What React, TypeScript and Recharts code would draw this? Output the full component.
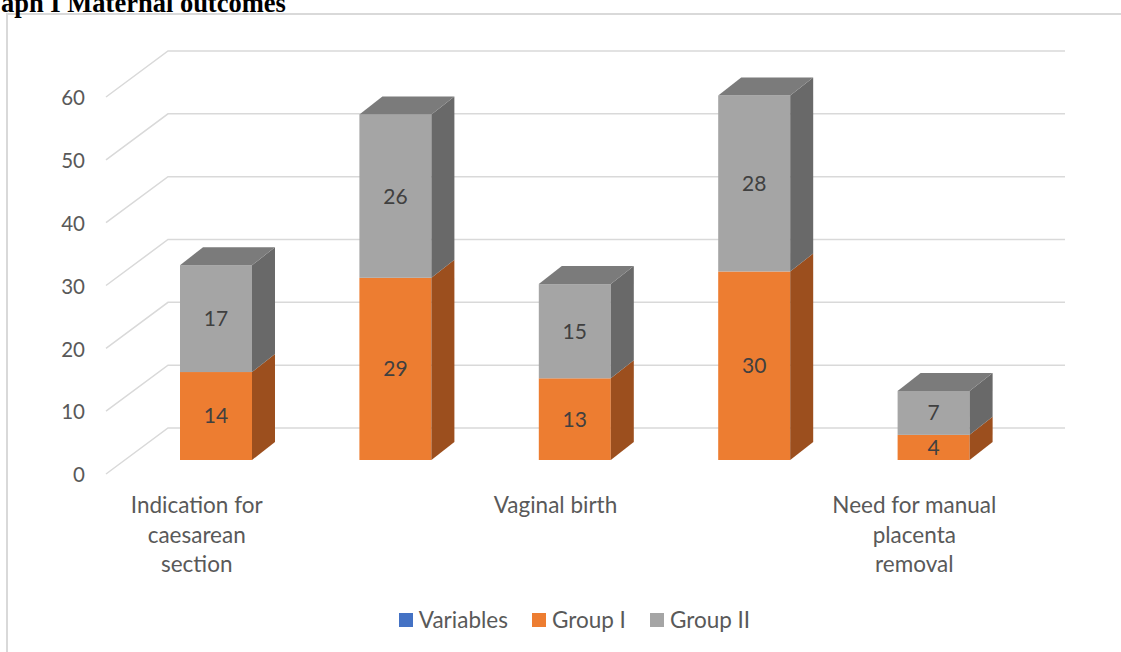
import React from "react";
import { Bar, BarChart, CartesianGrid, LabelList, Legend, XAxis, YAxis } from "recharts";

// categories 2 and 4 have no visible label in the source chart
const categories = [
  "Indication for caesarean section",
  "",
  "Vaginal birth",
  "",
  "Need for manual placenta removal",
];
const groupI = [14, 29, 13, 30, 4];
const groupII = [17, 26, 15, 28, 7];
const yTicks = [0, 10, 20, 30, 40, 50, 60];
const seriesNames = ["Variables", "Group I", "Group II"];
const seriesColors = ["#4472c4", "#ed7d31", "#a5a5a5"];

const data = categories.map((name, i) => ({
  name,
  groupI: groupI[i],
  groupII: groupII[i],
}));

const FONT = "Lato, Carlito, Calibri, sans-serif";
const DX = 23;
const DY = 18;

function wrap(text: string, max: number) {
  const lines: string[] = [];
  let cur = "";
  for (const w of text.split(" ")) {
    if (!cur) cur = w;
    else if ((cur + " " + w).length <= max) cur += " " + w;
    else {
      lines.push(cur);
      cur = w;
    }
  }
  if (cur) lines.push(cur);
  return lines;
}

function box(side: string, top: string | null) {
  return (props: any) => {
    const { x, y, width, height, fill } = props;
    if (!height || height <= 0) return <g />;
    const r = x + width;
    return (
      <g>
        <rect x={x} y={y} width={width} height={height} fill={fill} />
        <polygon
          points={`${r},${y} ${r + DX},${y - DY} ${r + DX},${y + height - DY} ${r},${y + height}`}
          fill={side}
        />
        {top && (
          <polygon
            points={`${x},${y} ${x + DX},${y - DY} ${r + DX},${y - DY} ${r},${y}`}
            fill={top}
          />
        )}
      </g>
    );
  };
}

// floor/back wall grid: diagonal on the side wall, then along the back wall
const gridLine = (p: any) => (
  <polyline
    key={p.key ?? p.index}
    points={`${p.x1 - 20},${p.y1 + 14} ${p.x1 + 42},${p.y1 - 32} ${p.x2 + 42},${p.y1 - 32}`}
    fill="none"
    stroke="#d9d9d9"
    strokeWidth={1.5}
  />
);

const ValueTick = (p: any) => (
  <text
    x={p.x - 41}
    y={p.y + 15}
    dy="0.35em"
    textAnchor="end"
    fill="#595959"
    fontSize={20.5}
    fontFamily={FONT}
  >
    {p.payload.value}
  </text>
);

const CategoryTick = (p: any) => {
  const lines = wrap(String(p.payload.value), 15);
  return (
    <text
      x={p.x - 19}
      y={p.y + 53}
      textAnchor="middle"
      fill="#595959"
      fontSize={22.5}
      fontFamily={FONT}
    >
      {lines.map((l, i) => (
        <tspan key={i} x={p.x - 19} dy={i === 0 ? 0 : 29.5}>
          {l}
        </tspan>
      ))}
    </text>
  );
};

const LegendContent = () => (
  <div
    style={{
      display: "flex",
      justifyContent: "center",
      alignItems: "center",
      gap: 24,
      fontFamily: FONT,
      fontSize: 22.5,
      lineHeight: "26px",
      color: "#595959",
    }}
  >
    {seriesNames.map((n, i) => (
      <div key={n} style={{ display: "flex", alignItems: "center", gap: 6 }}>
        <span style={{ width: 14, height: 14, background: seriesColors[i], display: "inline-block" }} />
        <span>{n}</span>
      </div>
    ))}
  </div>
);

export default function App() {
  return (
    <div style={{ position: "absolute", left: 0, top: 0, width: 1121, height: 652, overflow: "hidden", background: "#fff" }}>
      <div
        style={{
          position: "absolute",
          left: 6,
          top: 13,
          width: 1130,
          height: 660,
          border: "2px solid #d9d9d9",
        }}
      />
      <svg width={1121} height={20} style={{ position: "absolute", left: 0, top: 0 }}>
        <text x={1} y={12} fontFamily="'Liberation Serif', 'Times New Roman', serif" fontWeight="bold" fontSize={26.5}>
          aph I Maternal outcomes
        </text>
      </svg>
      <div style={{ position: "absolute", left: 0, top: 0 }}>
        <BarChart
          width={1121}
          height={652}
          data={data}
          margin={{ top: 83, right: 98, bottom: 102, left: 66 }}
          barSize={72}
        >
          <CartesianGrid vertical={false} horizontal={gridLine} fill="none" />
          <XAxis
            dataKey="name"
            height={90}
            axisLine={false}
            tickLine={false}
            tickSize={0}
            tickMargin={0}
            interval={0}
            tick={<CategoryTick />}
          />
          <YAxis
            type="number"
            domain={[0, 60]}
            ticks={yTicks}
            width={60}
            axisLine={false}
            tickLine={false}
            tickSize={0}
            tickMargin={0}
            tick={<ValueTick />}
          />
          <Legend
            layout="horizontal"
            verticalAlign="middle"
            align="center"
            content={<LegendContent />}
            wrapperStyle={{ left: 126, width: 897, top: 607 }}
          />
          <Bar
            dataKey="groupI"
            name={seriesNames[1]}
            stackId="s"
            fill={seriesColors[1]}
            shape={box("#9c4f1e", null)}
            isAnimationActive={false}
          >
            <LabelList dataKey="groupI" position="center" fill="#404040" fontSize={21} fontFamily={FONT} />
          </Bar>
          <Bar
            dataKey="groupII"
            name={seriesNames[2]}
            stackId="s"
            fill={seriesColors[2]}
            shape={box("#696969", "#7b7b7b")}
            isAnimationActive={false}
          >
            <LabelList dataKey="groupII" position="center" fill="#404040" fontSize={21} fontFamily={FONT} />
          </Bar>
        </BarChart>
      </div>
    </div>
  );
}
